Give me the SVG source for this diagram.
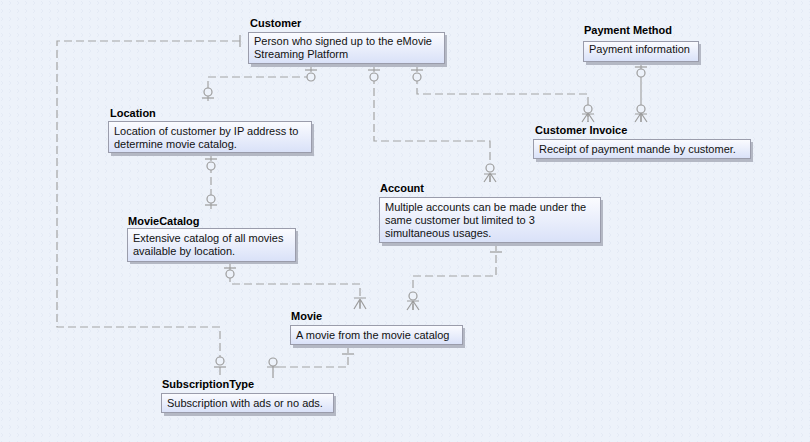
<svg xmlns="http://www.w3.org/2000/svg" width="810" height="442" viewBox="0 0 810 442">
<defs>
<linearGradient id="boxg" x1="0" y1="0" x2="0" y2="1">
<stop offset="0" stop-color="#fbfcff"/>
<stop offset="1" stop-color="#d9e1f8"/>
</linearGradient>
<pattern id="bgp" width="8" height="8" patternUnits="userSpaceOnUse">
<rect width="8" height="8" fill="#edf2fa"/>
<path d="M1,1 L3,3 L1,5" fill="none" stroke="#e2e9f4" stroke-width="0.8"/>
</pattern>
</defs>
<style>
.shadow{fill:#b4b8c4;}
.box{fill:url(#boxg);stroke:#9a9cab;stroke-width:1;}
.title{font-family:"Liberation Sans",Arial,sans-serif;font-size:11px;font-weight:bold;fill:#000;}
.txt{font-family:"Liberation Sans",Arial,sans-serif;font-size:11px;fill:#111;}
.dash{fill:none;stroke:#a4a4a4;stroke-width:1.2;stroke-dasharray:8,4;}
.solid{fill:none;stroke:#a4a4a4;stroke-width:1.2;}
.sym{fill:none;stroke:#9c9c9c;stroke-width:1.2;}
.circ{fill:#edf2fa;stroke:#9c9c9c;stroke-width:1.2;}
</style>
<rect width="810" height="442" fill="url(#bgp)"/>

<g id="connectors">
<!-- Customer -> SubscriptionType -->
<path class="dash" d="M240,41 H57 V327 H220 V378"/>
<path class="sym" d="M240,35 V47"/>
<circle class="circ" cx="220" cy="361" r="4"/>
<path class="sym" d="M214,367 H226"/>
<!-- Customer -> Location -->
<path class="dash" d="M311,64 V77 H208 V103"/>
<path class="sym" d="M305,70 H317"/>
<circle class="circ" cx="311" cy="77" r="4"/>
<circle class="circ" cx="208" cy="92" r="4"/>
<path class="sym" d="M202,98 H214"/>
<!-- Customer -> Account -->
<path class="dash" d="M374,64 V141 H490 V182"/>
<path class="sym" d="M368,70 H380"/>
<circle class="circ" cx="374" cy="77" r="4"/>
<circle class="circ" cx="490" cy="168" r="4"/>
<path class="sym" d="M484,174 H496 M490,173 L484,182 M490,173 V182 M490,173 L496,182"/>
<!-- Customer -> Customer Invoice -->
<path class="dash" d="M417,64 V94 H588 V122"/>
<path class="sym" d="M411,70 H423"/>
<circle class="circ" cx="417" cy="77" r="4"/>
<circle class="circ" cx="588" cy="109" r="4"/>
<path class="sym" d="M582,114 H594 M588,113 L582,122 M588,113 V122 M588,113 L594,122"/>
<!-- Payment Method -> Customer Invoice -->
<path class="solid" d="M641,62 V122"/>
<path class="sym" d="M635,67 H647"/>
<circle class="circ" cx="641" cy="73" r="4"/>
<circle class="circ" cx="641" cy="109" r="4"/>
<path class="sym" d="M635,114 H647 M641,113 L635,122 M641,113 V122 M641,113 L647,122"/>
<!-- Location -> MovieCatalog -->
<path class="dash" d="M211,153 V212"/>
<path class="sym" d="M205,159 H217"/>
<circle class="circ" cx="211" cy="166" r="4"/>
<circle class="circ" cx="211" cy="199" r="4"/>
<path class="sym" d="M205,205 H217"/>
<!-- MovieCatalog -> Movie -->
<path class="dash" d="M230,262 V284 H360 V309"/>
<path class="sym" d="M224,268 H236"/>
<circle class="circ" cx="230" cy="274" r="4"/>
<path class="sym" d="M354,298 H366 M360,299 L354,309 M360,299 V309 M360,299 L366,309"/>
<!-- Account -> Movie -->
<path class="dash" d="M496,243 V276 H413 V310"/>
<path class="sym" d="M490,252 H502"/>
<circle class="circ" cx="413" cy="296" r="4"/>
<path class="sym" d="M407,301 H419 M413,301 L407,310 M413,301 V310 M413,301 L419,310"/>
<!-- Movie -> SubscriptionType -->
<path class="dash" d="M348,345 V367 H279"/>
<path class="sym" d="M342,354 H354"/>
<circle class="circ" cx="273" cy="362" r="4"/>
<path class="sym" d="M267,367 H279 M273,366 V378"/>
</g>

<g id="customer">
<text class="title" x="250" y="27">Customer</text>
<rect class="shadow" x="251" y="35" width="196" height="32"/>
<rect class="box" x="248.5" y="32.5" width="196" height="31"/>
<text class="txt" x="254" y="45">Person who signed up to the eMovie</text>
<text class="txt" x="254" y="58">Streaming Platform</text>
</g>

<g id="payment-method">
<text class="title" x="584" y="34">Payment Method</text>
<rect class="shadow" x="586" y="44" width="115" height="21"/>
<rect class="box" x="583.5" y="41.5" width="115" height="20"/>
<text class="txt" x="589" y="53">Payment information</text>
</g>

<g id="customer-invoice">
<text class="title" x="535" y="134">Customer Invoice</text>
<rect class="shadow" x="536" y="142" width="217" height="20"/>
<rect class="box" x="533.5" y="139.5" width="217" height="19"/>
<text class="txt" x="539" y="153">Receipt of payment mande by customer.</text>
</g>

<g id="location">
<text class="title" x="110" y="117">Location</text>
<rect class="shadow" x="111" y="124" width="203" height="32"/>
<rect class="box" x="108.5" y="121.5" width="203" height="31"/>
<text class="txt" x="114" y="135">Location of customer by IP address to</text>
<text class="txt" x="114" y="148">determine movie catalog.</text>
</g>

<g id="moviecatalog">
<text class="title" x="128" y="225">MovieCatalog</text>
<rect class="shadow" x="130" y="231" width="168" height="33"/>
<rect class="box" x="127.5" y="228.5" width="168" height="33"/>
<text class="txt" x="133" y="242">Extensive catalog of all movies</text>
<text class="txt" x="133" y="255">available by location.</text>
</g>

<g id="account">
<text class="title" x="380" y="192">Account</text>
<rect class="shadow" x="382" y="200" width="221" height="46"/>
<rect class="box" x="379.5" y="197.5" width="221" height="45"/>
<text class="txt" x="385" y="211">Multiple accounts can be made under the</text>
<text class="txt" x="385" y="224">same customer but limited to 3</text>
<text class="txt" x="385" y="237">simultaneous usages.</text>
</g>

<g id="movie">
<text class="title" x="291" y="320">Movie</text>
<rect class="shadow" x="293" y="328" width="172" height="20"/>
<rect class="box" x="290.5" y="325.5" width="172" height="19"/>
<text class="txt" x="296" y="339">A movie from the movie catalog</text>
</g>

<g id="subscriptiontype">
<text class="title" x="162" y="388">SubscriptionType</text>
<rect class="shadow" x="164" y="396" width="172" height="20"/>
<rect class="box" x="161.5" y="393.5" width="172" height="19"/>
<text class="txt" x="167" y="407">Subscription with ads or no ads.</text>
</g>
</svg>
